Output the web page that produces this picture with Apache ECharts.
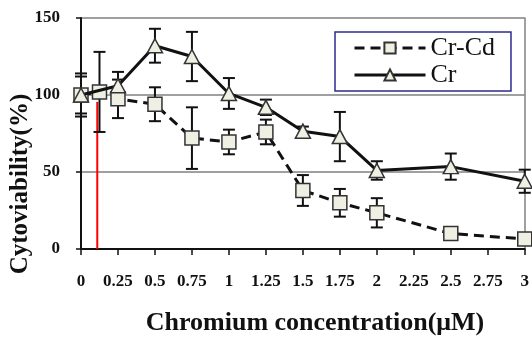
<!DOCTYPE html>
<html>
<head>
<meta charset="utf-8">
<script src="https://cdn.jsdelivr.net/npm/echarts@6/dist/echarts.min.js"></script>
<style>html,body{margin:0;padding:0;background:#fff;}#c{width:532px;height:338px;}</style>
</head>
<body>
<div id="c"></div>
<script>
// Data
var xCrCd   = [0, 0.125, 0.25, 0.5, 0.75, 1, 1.25, 1.5, 1.75, 2, 2.5, 3];
var crCd    = [100, 102, 97.5, 94, 72, 69.5, 76, 38, 30, 23.5, 10, 6.5];
var crCdErr = [14, 26, 12.5, 11, 20, 8, 8, 10, 9, 9.5, 4, 2];
var xCr     = [0, 0.25, 0.5, 0.75, 1, 1.25, 1.5, 1.75, 2, 2.5, 3];
var cr      = [100, 106, 132, 125, 101, 92, 76.5, 73, 51, 53.5, 44];
var crErr   = [12, 9, 11, 16, 10, 5, 3, 16, 6, 8.5, 7.5];
var refLineX = 0.11;
var refLineTop = 95.5;
var yTicks = [0, 50, 100, 150];

var FONT = "'Liberation Serif','Times New Roman',serif";

function pairs(xs, ys) { return xs.map(function (x, i) { return [x, ys[i]]; }); }
function triples(xs, ys, es) { return xs.map(function (x, i) { return [x, ys[i], es[i]]; }); }

function errRender(params, api) {
  var x = api.value(0), y = api.value(1), e = api.value(2);
  var top = api.coord([x, y + e]);
  var bot = api.coord([x, y - e]);
  var w = 6;
  var st = { stroke: '#111', lineWidth: 2 };
  return {
    type: 'group',
    children: [
      { type: 'line', shape: { x1: top[0], y1: top[1], x2: bot[0], y2: bot[1] }, style: st },
      { type: 'line', shape: { x1: top[0] - w, y1: top[1], x2: top[0] + w, y2: top[1] }, style: st },
      { type: 'line', shape: { x1: bot[0] - w, y1: bot[1], x2: bot[0] + w, y2: bot[1] }, style: st }
    ]
  };
}

var chart = echarts.init(document.getElementById('c'), null, { renderer: 'canvas' });
chart.setOption({
  animation: false,
  backgroundColor: '#fff',
  grid: { left: 81, top: 18, right: 3, bottom: 89, containLabel: false },
  legend: {
    data: ['Cr-Cd', 'Cr'],
    orient: 'vertical',
    left: 335,
    top: 32,
    itemWidth: 71,
    itemHeight: 14,
    itemGap: 1,
    padding: [3, 16, 3, 18],
    borderColor: '#2b2b8f',
    borderWidth: 1.5,
    backgroundColor: '#fff',
    lineStyle: { width: 3 },
    textStyle: { fontFamily: FONT, fontSize: 26, color: '#111', lineHeight: 26 }
  },
  xAxis: {
    type: 'value', min: 0, max: 3, interval: 0.25,
    axisLine: { show: true, onZero: false, lineStyle: { color: '#111', width: 2 } },
    axisTick: { show: true, inside: false, length: 6, lineStyle: { color: '#111', width: 1.5 } },
    axisLabel: { margin: 24, fontFamily: FONT, fontWeight: 'bold', fontSize: 17, color: '#111' },
    splitLine: { show: false }
  },
  yAxis: [{
    type: 'value', min: 0, max: 150, interval: 50,
    axisLine: { show: true, lineStyle: { color: '#111', width: 2 } },
    axisTick: { show: true, inside: false, length: 5, lineStyle: { color: '#111', width: 1.5 } },
    axisLabel: { margin: 21, fontFamily: FONT, fontWeight: 'bold', fontSize: 17, color: '#111',
      formatter: function (v) { return yTicks.indexOf(v) >= 0 ? String(v) : ''; } },
    splitLine: { show: true, lineStyle: { color: '#808080', width: 1.5 } }
  }, {
    type: 'value', min: 0, max: 150, interval: 50, position: 'right',
    axisLine: { show: true, lineStyle: { color: '#808080', width: 1.5 } },
    axisTick: { show: false }, axisLabel: { show: false }, splitLine: { show: false }
  }],
  graphic: [
    { type: 'text', x: 21, y: 184, rotation: Math.PI / 2,
      style: { text: 'Cytoviability(%)', fontFamily: FONT, fontWeight: 'bold', fontSize: 25,
        fill: '#111', align: 'center', verticalAlign: 'middle' } },
    { type: 'text', x: 315, y: 323,
      style: { text: 'Chromium concentration(\u03bcM)', fontFamily: FONT, fontWeight: 'bold', fontSize: 26,
        fill: '#111', align: 'center', verticalAlign: 'middle' } }
  ],
  series: [
    { name: 'ref', type: 'line', data: [[refLineX, 0], [refLineX, refLineTop]], symbol: 'none',
      lineStyle: { color: '#ff0000', width: 2 }, silent: true, z: 1 },
    { name: 'errCrCd', type: 'custom', renderItem: errRender, data: triples(xCrCd, crCd, crCdErr), z: 2, clip: false, silent: true },
    { name: 'errCr', type: 'custom', renderItem: errRender, data: triples(xCr, cr, crErr), z: 2, clip: false, silent: true },
    { name: 'Cr-Cd', type: 'line', data: pairs(xCrCd, crCd), symbol: 'rect', symbolSize: 14,
      lineStyle: { color: '#111', width: 3, type: [10, 6] },
      itemStyle: { color: '#efefe3', borderColor: '#333', borderWidth: 1.5 }, z: 3, clip: false },
    { name: 'Cr', type: 'line', data: pairs(xCr, cr), symbol: 'triangle', symbolSize: [15, 14],
      lineStyle: { color: '#111', width: 3, type: 'solid' },
      itemStyle: { color: '#efefe3', borderColor: '#333', borderWidth: 1.5 }, z: 4, clip: false }
  ]
});
</script>
</body>
</html>
